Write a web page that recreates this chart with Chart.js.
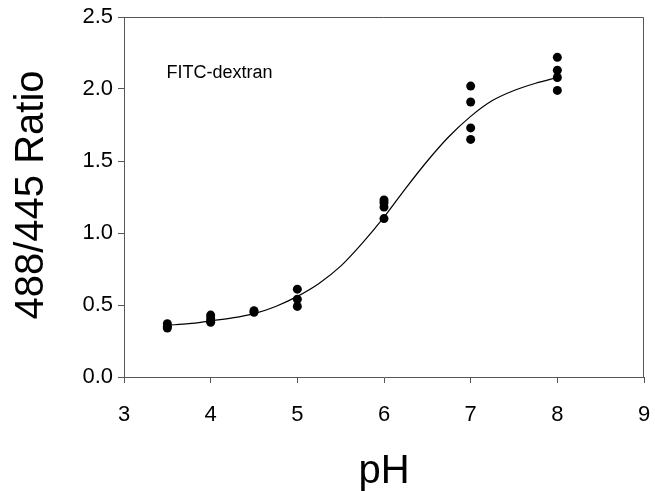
<!DOCTYPE html>
<html>
<head>
<meta charset="utf-8">
<script src="https://cdn.jsdelivr.net/npm/chart.js@4"></script>
<style>
  html, body { margin: 0; padding: 0; background: #fff; }
  #wrap { width: 655px; height: 491px; }
</style>
</head>
<body>
<div id="wrap"><canvas id="chart" width="655" height="491"></canvas></div>
<script>
// measured points (pH, 488/445 ratio)
const pointPH    = [3.5, 3.5, 3.5, 4, 4, 4, 4, 4.5, 4.5, 5, 5, 5, 6, 6, 6, 6, 7, 7, 7, 7, 8, 8, 8, 8];
const pointRatio = [0.37, 0.35, 0.34, 0.43, 0.41, 0.39, 0.38, 0.46, 0.45, 0.61, 0.54, 0.49,
                    1.23, 1.21, 1.18, 1.10, 2.02, 1.91, 1.73, 1.65, 2.22, 2.13, 2.08, 1.99];

// fitted curve
const curvePH    = [3.5, 3.75, 4, 4.25, 4.5, 4.75, 5, 5.25, 5.5, 5.75, 6, 6.25, 6.5, 6.75, 7, 7.25, 7.5, 7.75, 8];
const curveRatio = [0.36, 0.37, 0.39, 0.41, 0.44, 0.49, 0.56, 0.65, 0.77, 0.93, 1.11, 1.31, 1.50, 1.67, 1.81, 1.92, 1.99, 2.04, 2.08];

const xTicks = [3, 4, 5, 6, 7, 8, 9];
const yTicks = [0, 0.5, 1.0, 1.5, 2.0, 2.5];
const label = 'FITC-dextran';
const xTitle = 'pH';
const yTitle = '488/445 Ratio';

const FONT = 'Arial, "Liberation Sans", sans-serif';
const AXIS = '#555';

const frame = {
    id: 'frame',
    afterDraw(chart) {
        const { ctx, chartArea: a, scales } = chart;
        ctx.save();
        ctx.strokeStyle = AXIS;
        ctx.lineWidth = 1;
        ctx.beginPath();
        ctx.moveTo(a.left, a.top + 0.5);
        ctx.lineTo(a.right - 0.5, a.top + 0.5);
        ctx.lineTo(a.right - 0.5, a.bottom);
        ctx.stroke();
        ctx.fillStyle = '#000';
        // label inside the plot
        ctx.font = '18px ' + FONT;
        ctx.textBaseline = 'middle';
        ctx.fillText(label, scales.x.getPixelForValue(3.49), scales.y.getPixelForValue(2.11));
        // axis titles
        ctx.font = '40px ' + FONT;
        ctx.textAlign = 'center';
        ctx.textBaseline = 'alphabetic';
        ctx.fillText(xTitle, (a.left + a.right) / 2, 483);
        ctx.translate(43, (a.top + a.bottom) / 2 - 2);
        ctx.rotate(-Math.PI / 2);
        ctx.fillText(yTitle, 0, 0);
        ctx.restore();
    }
};

new Chart(document.getElementById('chart'), {
    type: 'scatter',
    data: {
        datasets: [
            {
                data: curvePH.map((x, i) => ({ x, y: curveRatio[i] })),
                showLine: true,
                borderColor: '#000',
                borderWidth: 1.2,
                pointRadius: 0,
                cubicInterpolationMode: 'monotone'
            },
            {
                data: pointPH.map((x, i) => ({ x, y: pointRatio[i] })),
                backgroundColor: '#000',
                borderColor: '#000',
                pointRadius: 4.5,
                borderWidth: 0
            }
        ]
    },
    options: {
        responsive: false,
        animation: false,
        layout: { padding: { top: 17, right: 11, left: 0, bottom: 0 } },
        plugins: { legend: { display: false }, tooltip: { enabled: false } },
        scales: {
            x: {
                type: 'linear', min: 3, max: 9,
                afterBuildTicks: s => { s.ticks = xTicks.map(v => ({ value: v })); },
                afterFit: s => { s.height = 114; s.paddingLeft = 0; s.paddingRight = 0; },
                grid: { drawOnChartArea: false, drawTicks: true, tickLength: 6, color: AXIS },
                border: { display: true, color: AXIS },
                ticks: { color: '#000', font: { family: FONT, size: 22 }, padding: 19, maxRotation: 0 }
            },
            y: {
                type: 'linear', min: 0, max: 2.5,
                afterBuildTicks: s => { s.ticks = yTicks.map(v => ({ value: v })); },
                afterFit: s => { s.width = 124; s.paddingTop = 0; s.paddingBottom = 0; },
                grid: { drawOnChartArea: false, drawTicks: true, tickLength: 6, color: AXIS },
                border: { display: true, color: AXIS },
                ticks: { color: '#000', font: { family: FONT, size: 22 }, padding: 5, callback: v => v.toFixed(1) }
            }
        }
    },
    plugins: [frame]
});
</script>
</body>
</html>
